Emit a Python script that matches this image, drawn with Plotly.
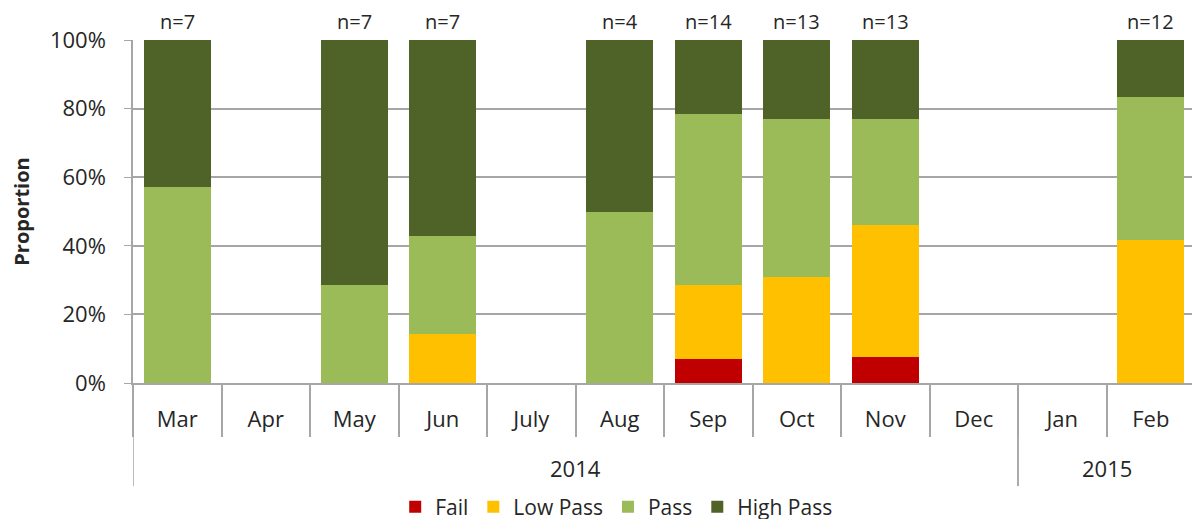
import plotly.graph_objects as go

months = ["Mar", "Apr", "May", "Jun", "July", "Aug", "Sep", "Oct", "Nov", "Dec", "Jan", "Feb"]
year_labels = ["2014", "2015"]
year_first_month = ["Mar", "Jan"]
year_last_month = ["Dec", "Feb"]
n_total = [7, None, 7, 7, None, 4, 14, 13, 13, None, None, 12]
fail = [0, None, 0, 0, None, 0, 1, 0, 1, None, None, 0]
low_pass = [0, None, 0, 1, None, 0, 3, 4, 5, None, None, 5]
pass_ = [4, None, 2, 2, None, 2, 7, 6, 4, None, None, 5]
high_pass = [3, None, 5, 4, None, 2, 3, 3, 3, None, None, 2]

series = [
    ("Fail", fail, "#C00000"),
    ("Low Pass", low_pass, "#FFC000"),
    ("Pass", pass_, "#9BBB59"),
    ("High Pass", high_pass, "#4F6228"),
]

FONT = "Open Sans, Noto Sans, sans-serif"
GRID = "#A6A6A6"
TXT = "#262626"

fig = go.Figure()
for name, counts, color in series:
    props = [c / n if (c is not None and n) else None for c, n in zip(counts, n_total)]
    fig.add_trace(go.Bar(x=months, y=props, name=name, marker_color=color,
                         marker_line_width=0))

# n= labels above each non-empty column
for m, n in zip(months, n_total):
    if n:
        fig.add_annotation(x=m, y=1.0, xref="x", yref="y", text=f"n={n}", showarrow=False,
                           yanchor="bottom", yshift=3, font=dict(size=20, color=TXT))

# year group labels and dividers below the month row
for yl, first, last in zip(year_labels, year_first_month, year_last_month):
    i0, i1 = months.index(first), months.index(last)
    fig.add_annotation(x=(i0 + i1) / 2, y=-0.248, xref="x", yref="paper", text=yl,
                       showarrow=False, font=dict(size=22, color=TXT), yanchor="middle")
    for xb in (i0 - 0.5, i1 + 0.5):
        fig.add_shape(type="line", xref="x", yref="paper", x0=xb, x1=xb, y0=0, y1=-0.30,
                      line=dict(color=GRID, width=1.5))

fig.update_layout(
    barmode="stack",
    bargap=0.245,
    width=1192, height=530,
    margin=dict(l=125, r=5, t=32, b=155, autoexpand=False),
    plot_bgcolor="white", paper_bgcolor="white",
    font=dict(family=FONT, size=22, color=TXT),
    legend=dict(orientation="h", x=0.455, xanchor="center", y=-0.3615, yanchor="middle",
                font=dict(size=21), itemwidth=30, traceorder="normal"),
    showlegend=True,
)
fig.update_yaxes(range=[0, 1], tickformat=".0%", dtick=0.2, showgrid=True, gridcolor=GRID,
                 gridwidth=1.5,
                 showline=True, linecolor=GRID, linewidth=1.5, ticks="outside", ticklen=7,
                 tickcolor=GRID, zeroline=False, ticklabelstandoff=14,
                 title=dict(text="<b>Proportion</b>", font=dict(size=20), standoff=16),
                 tickfont=dict(size=22))
fig.update_xaxes(type="category", showline=True, linecolor=GRID, linewidth=1.5,
                 ticks="outside", tickson="boundaries", ticklen=52, tickcolor=GRID,
                 tickwidth=1.5, tickfont=dict(size=22), ticklabelstandoff=16,
                 range=[-0.5, len(months) - 0.5])

fig.write_html("out.html")
